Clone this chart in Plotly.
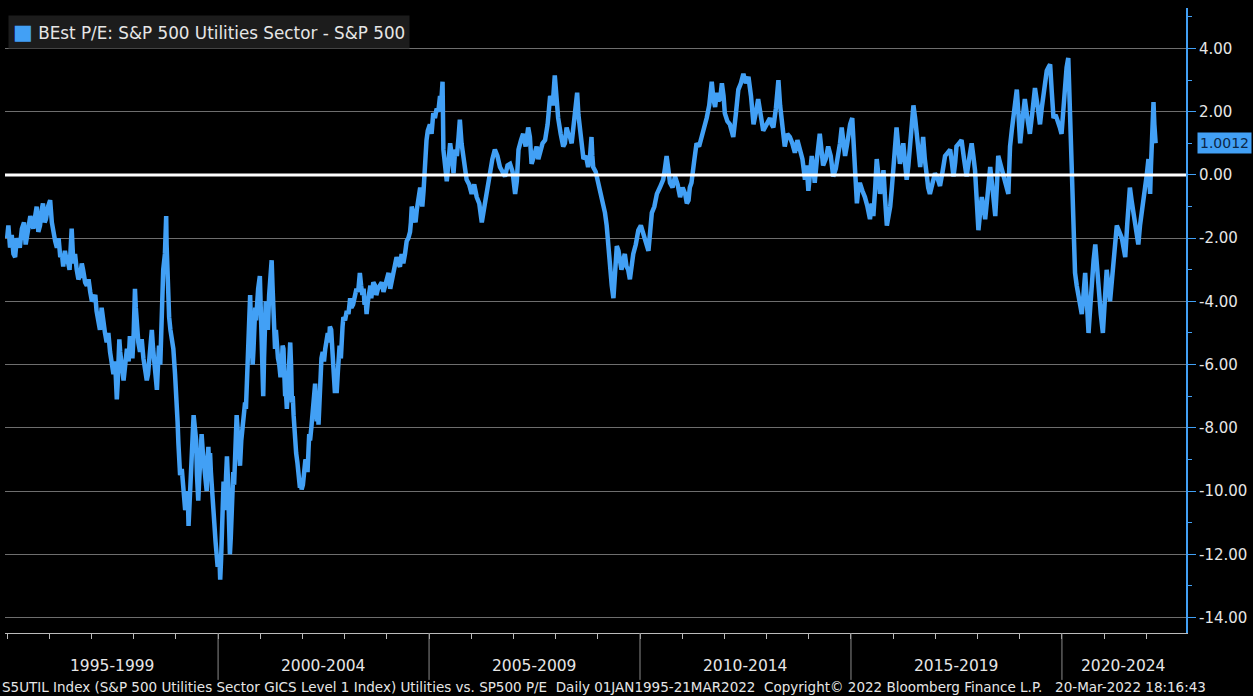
import plotly.graph_objects as go

# decimal year, P/E spread (Utilities minus S&P 500)
years = [
    1995.00, 1995.03, 1995.07, 1995.15, 1995.23, 1995.30, 1995.40, 1995.47, 1995.55, 1995.62,
    1995.70, 1995.78, 1995.85, 1995.92, 1996.02, 1996.06, 1996.10, 1996.18, 1996.26, 1996.33,
    1996.41, 1996.48, 1996.53, 1996.57, 1996.65, 1996.73, 1996.80, 1996.89, 1996.97, 1997.05,
    1997.12, 1997.20, 1997.28, 1997.36, 1997.44, 1997.52, 1997.56, 1997.60, 1997.64, 1997.68,
    1997.76, 1997.84, 1997.91, 1997.97, 1998.03, 1998.08, 1998.15, 1998.23, 1998.31, 1998.37,
    1998.43, 1998.49, 1998.55, 1998.60, 1998.63, 1998.70, 1998.77, 1998.80, 1998.84, 1998.94,
    1999.02, 1999.06, 1999.10, 1999.18, 1999.26, 1999.30, 1999.34, 1999.38, 1999.42, 1999.48,
    1999.53, 1999.57, 1999.61, 1999.67, 1999.73, 1999.77, 1999.81, 1999.85, 1999.89, 1999.94,
    1999.97, 2000.05, 2000.09, 2000.13, 2000.17, 2000.21, 2000.25, 2000.28, 2000.33, 2000.36,
    2000.40, 2000.44, 2000.48, 2000.52, 2000.58, 2000.64, 2000.68, 2000.72, 2000.76, 2000.80,
    2000.84, 2000.88, 2000.92, 2000.99, 2001.03, 2001.07, 2001.11, 2001.15, 2001.21, 2001.27,
    2001.31, 2001.35, 2001.39, 2001.45, 2001.51, 2001.55, 2001.59, 2001.63, 2001.67, 2001.71,
    2001.75, 2001.79, 2001.85, 2001.90, 2001.94, 2001.98, 2002.04, 2002.10, 2002.14, 2002.18,
    2002.24, 2002.30, 2002.34, 2002.38, 2002.42, 2002.48, 2002.54, 2002.60, 2002.65, 2002.70,
    2002.73, 2002.77, 2002.81, 2002.86, 2002.89, 2002.93, 2002.97, 2003.05, 2003.13, 2003.20,
    2003.28, 2003.36, 2003.42, 2003.47, 2003.52, 2003.58, 2003.63, 2003.68, 2003.75, 2003.83,
    2003.92, 2004.00, 2004.08, 2004.15, 2004.23, 2004.31, 2004.39, 2004.47, 2004.55, 2004.59,
    2004.65, 2004.71, 2004.79, 2004.84, 2004.87, 2004.94, 2005.02, 2005.10, 2005.18, 2005.26,
    2005.32, 2005.34, 2005.42, 2005.50, 2005.58, 2005.66, 2005.73, 2005.81, 2005.89, 2006.01,
    2006.13, 2006.25, 2006.36, 2006.44, 2006.56, 2006.68, 2006.80, 2006.92, 2007.04, 2007.12,
    2007.23, 2007.35, 2007.43, 2007.55, 2007.63, 2007.75, 2007.87, 2007.98, 2008.06, 2008.18,
    2008.26, 2008.34, 2008.42, 2008.51, 2008.58, 2008.66, 2008.77, 2008.85, 2008.89, 2009.01,
    2009.13, 2009.21, 2009.29, 2009.37, 2009.45, 2009.52, 2009.60, 2009.68, 2009.76, 2009.84,
    2009.96, 2010.08, 2010.20, 2010.28, 2010.40, 2010.55, 2010.63, 2010.71, 2010.83, 2010.95,
    2011.07, 2011.15, 2011.22, 2011.34, 2011.46, 2011.58, 2011.70, 2011.78, 2011.86, 2011.94,
    2012.01, 2012.13, 2012.21, 2012.33, 2012.45, 2012.57, 2012.69, 2012.80, 2012.92, 2013.08,
    2013.16, 2013.28, 2013.36, 2013.43, 2013.55, 2013.67, 2013.79, 2013.91, 2013.99, 2014.07,
    2014.14, 2014.26, 2014.34, 2014.46, 2014.58, 2014.70, 2014.78, 2014.86, 2014.94, 2015.03,
    2015.10, 2015.14, 2015.21, 2015.33, 2015.45, 2015.53, 2015.61, 2015.69, 2015.77, 2015.85,
    2015.93, 2016.00, 2016.08, 2016.16, 2016.24, 2016.32, 2016.40, 2016.48, 2016.56, 2016.64,
    2016.71, 2016.79, 2016.87, 2016.99, 2017.11, 2017.23, 2017.35, 2017.43, 2017.50, 2017.62,
    2017.74, 2017.86, 2017.94, 2018.02, 2018.10, 2018.18, 2018.30, 2018.42, 2018.49, 2018.61,
    2018.73, 2018.77, 2018.85, 2018.93, 2019.01, 2019.12, 2019.24, 2019.36, 2019.48, 2019.56,
    2019.64, 2019.72, 2019.80, 2019.91, 2019.99, 2020.07, 2020.15, 2020.19, 2020.23, 2020.27,
    2020.31, 2020.39, 2020.47, 2020.55, 2020.63, 2020.71, 2020.79, 2020.86, 2020.97, 2021.06,
    2021.14, 2021.22, 2021.30, 2021.42, 2021.50, 2021.61, 2021.69, 2021.81, 2021.89, 2021.97,
    2022.05, 2022.09, 2022.13, 2022.17, 2022.22,
]
spread = [
    -2.0, -1.6, -2.3, -2.5, -2.0, -2.3, -1.5, -1.9, -1.3, -1.7,
    -1.0, -1.6, -0.9, -1.4, -0.8, -1.5, -1.9, -2.3, -2.6, -2.9,
    -2.7, -3.0, -1.7, -2.8, -3.0, -3.2, -3.0, -3.5, -3.7, -3.9,
    -4.3, -4.9, -4.7, -5.3, -5.6, -6.3, -5.9, -7.1, -6.0, -5.6,
    -6.5, -5.5, -5.1, -5.8, -3.6, -4.9, -5.6, -5.8, -6.5, -5.9,
    -4.9, -6.1, -6.8, -5.4, -6.0, -3.0, -1.3, -3.5, -4.5, -5.5,
    -7.1, -8.5, -9.5, -10.0, -10.3, -11.1, -9.8, -8.5, -7.6, -8.4,
    -10.3, -9.0, -8.2, -9.2, -10.0, -8.6, -8.8, -10.0, -10.8, -11.6,
    -12.0, -12.8, -11.0, -9.7, -10.3, -8.9, -10.5, -12.0, -10.5, -9.4,
    -8.8, -7.6, -8.5, -9.2, -8.0, -7.2, -6.8, -5.5, -3.8, -5.5,
    -5.5, -4.2, -3.9, -3.2, -5.0, -7.0, -4.5, -4.5, -3.8, -2.7,
    -4.6, -5.5, -5.5, -6.0, -6.0, -5.5, -7.0, -7.4, -6.5, -5.3,
    -7.2, -7.6, -8.8, -9.5, -9.9, -9.95, -9.4, -9.1, -8.8, -8.4,
    -7.6, -6.6, -7.8, -7.9, -6.1, -5.6, -5.5, -5.0, -4.8, -5.4,
    -6.0, -6.9, -6.9, -5.8, -5.7, -5.0, -4.5, -4.3, -3.9, -4.1,
    -3.6, -3.1, -3.8, -4.1, -4.4, -3.7, -3.9, -3.4, -3.8, -3.5,
    -3.7, -3.3, -3.6, -3.0, -2.6, -2.9, -2.8, -2.1, -1.8, -1.0,
    -1.4, -1.1, -0.4, -1.0, -0.5, 1.1, 1.6, 1.95, 2.1, 2.5,
    2.95, 0.8, -0.2, 1.0, 0.05, 0.6, 1.75, 0.6, -0.15, -0.6,
    -0.7, -1.5, -0.6, 0.15, 0.8, 0.25, -0.05, 0.35, -0.6, 0.8,
    1.3, 1.5, 0.35, 0.9, 0.7, 1.1, 2.5, 3.15, 1.8, 0.9,
    1.5, 1.2, 1.5, 2.6, 1.4, 0.5, 0.25, 1.2, 0.25, -0.25,
    -1.0, -1.6, -3.0, -3.9, -2.25, -2.6, -2.7, -2.9, -3.3, -2.5,
    -1.75, -1.85, -2.4, -1.2, -0.6, -0.15, 0.6, -0.25, -0.05, -0.7,
    -0.6, -0.8, -0.25, 1.0, 1.2, 1.8, 2.95, 2.15, 2.35, 2.9,
    1.95, 1.6, 1.2, 2.7, 3.2, 3.1, 1.6, 2.4, 1.4, 1.8,
    1.5, 3.0, 1.6, 0.9, 1.2, 0.7, 0.8, -0.15, -0.5, 0.6,
    -0.25, 1.3, 0.3, 0.9, -0.05, 0.6, 1.5, 0.6, 1.3, 1.8,
    0.25, -0.9, -0.25, -0.7, -1.4, -1.3, 0.5, -0.6, 0.15, -1.6,
    -1.0, 0.15, 1.5, 0.35, 1.0, -0.15, 0.9, 2.2, 1.3, 0.25,
    1.2, -0.15, -0.6, 0.05, -0.35, 0.6, 0.8, -0.05, 0.9, 1.1,
    -0.05, 1.0, 0.15, -1.75, -0.7, -1.4, 0.25, -1.3, 0.6, 0.05,
    -0.6, 0.9, 1.95, 2.7, 1.0, 2.4, 1.3, 2.75, 1.6, 2.6,
    3.3, 3.5, 1.8, 1.7, 1.3, 3.1, 3.7, 1.7, 0.25, -1.6,
    -3.1, -3.8, -4.4, -3.1, -5.0, -3.3, -2.2, -3.7, -5.0, -3.0,
    -4.0, -2.9, -1.6, -2.0, -2.6, -0.4, -1.2, -2.2, -1.1, -0.4,
    0.5, -0.6, 1.1, 2.3, 1.0012,
]

# extra in-between readings of the daily wiggle
extra_years = [
    1995.11, 1995.19, 1995.35, 1995.44, 1995.52, 1995.66, 1995.74, 1995.82, 1995.89, 1995.97,
    1996.14, 1996.22, 1996.30, 1996.37, 1996.45, 1996.61, 1996.69, 1996.77, 1996.85, 1996.93,
    1997.01, 1997.09, 1997.16, 1997.24, 1997.32, 1997.40, 1997.48, 1997.58, 1997.62, 1997.66,
    1997.72, 1997.80, 1997.88, 1997.94, 1998.00, 1998.05, 1998.11, 1998.19, 1998.27, 1998.34,
    1998.40, 1998.46, 1998.52, 1998.57, 1998.66, 1998.74, 1998.78, 1998.87, 1998.90, 1998.98,
    1999.04, 1999.08, 1999.14, 1999.22, 1999.28, 1999.32, 1999.36, 1999.40, 1999.45, 1999.50,
    1999.55, 1999.59, 1999.64, 1999.70, 1999.75, 1999.79, 1999.83, 1999.87, 1999.91, 1999.99,
    2000.03, 2000.07, 2000.11, 2000.15, 2000.19, 2000.23, 2000.27, 2000.30, 2000.35, 2000.38,
    2000.42, 2000.46, 2000.50, 2000.55, 2000.61, 2000.66, 2000.70, 2000.74, 2000.78, 2000.82,
    2000.86, 2000.90, 2000.95, 2001.01, 2001.05, 2001.09, 2001.13, 2001.18, 2001.24, 2001.29,
    2001.33, 2001.37, 2001.42, 2001.48, 2001.53, 2001.57, 2001.61, 2001.65, 2001.69, 2001.73,
    2001.77, 2001.82, 2001.88, 2001.92, 2001.96, 2002.01, 2002.07, 2002.12, 2002.16, 2002.21,
    2002.27, 2002.32, 2002.36, 2002.40, 2002.45, 2002.51, 2002.57, 2002.63, 2002.68, 2002.75,
    2002.79, 2002.84, 2002.88, 2002.91, 2002.95, 2003.01, 2003.09, 2003.16, 2003.24, 2003.32,
    2003.39, 2003.45, 2003.50, 2003.55, 2003.61, 2003.66, 2003.72, 2003.79, 2003.88, 2003.96,
    2004.04, 2004.12, 2004.19, 2004.27, 2004.35, 2004.43, 2004.51, 2004.57, 2004.62, 2004.68,
    2004.75, 2004.82, 2004.90, 2004.97, 2005.06, 2005.14, 2005.22, 2005.29, 2005.38, 2005.46,
    2005.54, 2005.62, 2005.70, 2005.77, 2005.85, 2005.95, 2006.07, 2006.19, 2006.30, 2006.40,
    2006.50, 2006.62, 2006.74, 2006.86, 2006.98, 2007.08, 2007.18, 2007.29, 2007.39, 2007.49,
    2007.59, 2007.69, 2007.81, 2007.93, 2008.02, 2008.12, 2008.22, 2008.30, 2008.38, 2008.46,
    2008.54, 2008.62, 2008.72, 2008.81, 2008.87, 2008.95, 2009.07, 2009.17, 2009.25, 2009.33,
    2009.41, 2009.49, 2009.56, 2009.64, 2009.72, 2009.80, 2009.90, 2010.02, 2010.14, 2010.24,
    2010.34, 2010.47, 2010.59, 2010.67, 2010.77, 2010.89, 2011.01, 2011.11, 2011.18, 2011.28,
    2011.40, 2011.52, 2011.64, 2011.74, 2011.82, 2011.90, 2011.98, 2012.07, 2012.17, 2012.27,
    2012.39, 2012.51, 2012.63, 2012.75, 2012.86, 2013.00, 2013.12, 2013.22, 2013.32, 2013.40,
    2013.49, 2013.61, 2013.73, 2013.85, 2013.95, 2014.03, 2014.11, 2014.20, 2014.30, 2014.40,
    2014.52, 2014.64, 2014.74, 2014.82, 2014.90, 2014.98, 2015.06, 2015.17, 2015.27, 2015.39,
    2015.49, 2015.57, 2015.65, 2015.73, 2015.81, 2015.89, 2015.97, 2016.04, 2016.12, 2016.20,
    2016.28, 2016.36, 2016.44, 2016.52, 2016.60, 2016.68, 2016.75, 2016.83, 2016.93, 2017.05,
    2017.17, 2017.29, 2017.39, 2017.47, 2017.56, 2017.68, 2017.80, 2017.90, 2017.98, 2018.06,
    2018.14, 2018.24, 2018.36, 2018.46, 2018.55, 2018.67, 2018.75, 2018.81, 2018.89, 2018.97,
    2019.06, 2019.18, 2019.30, 2019.42, 2019.52, 2019.60, 2019.68, 2019.76, 2019.85, 2019.95,
    2020.03, 2020.11, 2020.17, 2020.21, 2020.25, 2020.29, 2020.35, 2020.43, 2020.51, 2020.59,
    2020.67, 2020.75, 2020.83, 2020.92, 2021.02, 2021.10, 2021.18, 2021.26, 2021.36, 2021.46,
    2021.55, 2021.65, 2021.75, 2021.85, 2021.93, 2022.01, 2022.07, 2022.11, 2022.15, 2022.19,
]
extra_spread = [
    -1.9, -2.6, -1.7, -2.2, -1.6, -1.2, -1.8, -1.1, -1.5, -1.0,
    -2.1, -2.0, -2.5, -2.4, -2.8, -2.5, -3.3, -2.8, -3.4, -3.3,
    -4.0, -3.8, -4.6, -4.2, -5.0, -5.0, -5.9, -6.4, -6.6, -5.2,
    -6.2, -6.0, -5.9, -5.3, -5.0, -4.2, -5.3, -5.2, -6.2, -6.3,
    -5.6, -5.5, -6.5, -6.2, -4.4, -2.5, -2.2, -4.9, -5.2, -6.3,
    -7.8, -9.0, -9.3, -10.6, -10.0, -10.5, -9.0, -8.0, -8.0, -9.5,
    -9.7, -8.5, -8.8, -9.6, -9.0, -9.3, -9.4, -10.4, -11.0, -12.4,
    -12.0, -12.2, -10.2, -10.6, -9.5, -9.5, -11.2, -11.5, -9.9, -9.8,
    -8.3, -8.0, -9.0, -8.4, -7.8, -7.4, -6.2, -4.5, -4.8, -6.0,
    -4.9, -4.6, -3.6, -4.2, -6.2, -5.8, -4.0, -4.9, -3.3, -3.5,
    -5.0, -4.9, -5.8, -6.4, -5.4, -6.3, -6.9, -7.0, -5.9, -6.0,
    -7.0, -8.4, -9.1, -9.5, -9.6, -9.8, -9.0, -9.4, -8.2, -8.0,
    -7.0, -7.2, -7.0, -7.3, -5.8, -5.9, -5.2, -5.3, -4.9, -6.4,
    -6.4, -6.2, -5.4, -5.8, -4.8, -4.6, -4.4, -4.2, -3.9, -3.7,
    -3.5, -3.6, -4.0, -4.0, -3.5, -3.7, -3.5, -3.6, -3.4, -3.5,
    -3.1, -3.3, -2.7, -2.8, -2.5, -2.5, -2.0, -1.5, -1.2, -1.5,
    -0.8, -0.8, 0.3, 1.4, 1.3, 1.8, 2.0, 2.3, 0.4, 0.4,
    0.6, 0.8, 1.2, 1.0, 0.2, -0.3, -0.3, -0.9, -1.1, -0.2,
    0.5, 0.6, 0.1, 0.3, 0.1, -0.2, 1.1, 0.9, 1.2, 0.6,
    0.5, 1.0, 1.6, 2.2, 2.4, 1.3, 1.0, 1.3, 1.0, 1.9,
    1.9, 0.9, 0.6, 0.5, 0.6, 0.1, -0.6, -1.2, -2.3, -3.5,
    -3.0, -2.4, -3.0, -2.5, -3.0, -2.7, -2.2, -1.6, -2.2, -1.8,
    -1.0, -0.4, 0.2, 0.2, -0.4, -0.3, -0.4, -0.9, -0.4, 0.4,
    0.9, 1.4, 2.2, 2.4, 2.6, 2.4, 2.5, 1.7, 1.4, 1.9,
    2.9, 2.9, 2.5, 2.0, 1.9, 1.6, 1.6, 2.1, 2.2, 1.2,
    1.3, 1.0, 1.1, 0.5, 0.3, 0.1, 0.2, 0.6, 0.8, 0.5,
    0.6, 0.2, 1.0, 0.9, 0.9, 1.6, 1.0, -0.5, -0.5, -1.0,
    -0.9, -0.5, 0.0, -0.3, -0.8, -1.3, -0.4, 0.8, 0.9, 0.7,
    0.4, 0.3, 1.5, 1.8, 0.8, 0.7, 0.5, -0.4, -0.2, -0.1,
    0.1, 0.7, 0.4, 0.4, 1.0, 0.5, 0.5, 0.6, -0.8, -1.2,
    -1.0, -0.6, -0.5, -0.3, 0.3, -0.3, 0.2, 1.4, 2.3, 1.9,
    1.7, 1.8, 2.0, 2.2, 2.1, 2.9, 3.4, 2.6, 1.9, 1.5,
    2.2, 3.4, 2.7, 1.0, -0.7, -2.4, -3.5, -4.1, -3.8, -4.0,
    -4.2, -2.7, -3.0, -4.4, -4.0, -3.5, -3.4, -2.2, -1.8, -2.3,
    -1.5, -0.8, -1.7, -1.6, -0.7, 0.0, -0.1, 0.3, 1.7, 1.6,
]

y_ticks = [4, 2, 0, -2, -4, -6, -8, -10, -12, -14]
periods = ["1995-1999", "2000-2004", "2005-2009", "2010-2014", "2015-2019", "2020-2024"]
period_starts = [1995, 2000, 2005, 2010, 2015, 2020]
year_ticks = list(range(1995, 2023))

title = "BEst P/E: S&P 500 Utilities Sector - S&P 500"
footer = ("S5UTIL Index (S&P 500 Utilities Sector GICS Level 1 Index) Utilities vs. SP500 P/E  "
          "Daily 01JAN1995-21MAR2022  Copyright\u00a9 2022 Bloomberg Finance L.P.   20-Mar-2022 18:16:43")

BLUE = "#42a0f5"
x_min, x_max = 1994.95, 2022.94
px_year = 1 / 42.2  # one pixel in years

pts = sorted(zip(years + extra_years, spread + extra_spread))
xs = [p[0] for p in pts]
ys = [p[1] for p in pts]
last = spread[-1]

fig = go.Figure()
fig.add_trace(go.Scatter(x=xs, y=ys, mode="lines",
                         line=dict(color=BLUE, width=4.5), showlegend=False))

# triangle markers on the right axis
fig.add_trace(go.Scatter(x=[x_max + 5 * px_year] * len(y_ticks), y=y_ticks, mode="markers",
                         marker=dict(symbol="triangle-right", size=9, color=BLUE),
                         cliponaxis=False, showlegend=False, hoverinfo="skip"))
# last value pointer
fig.add_trace(go.Scatter(x=[x_max + 7 * px_year], y=[last], mode="markers",
                         marker=dict(symbol="triangle-left", size=15, color=BLUE),
                         cliponaxis=False, showlegend=False, hoverinfo="skip"))

fig.add_hline(y=0, line=dict(color="white", width=3))

for s in period_starts[1:]:
    fig.add_shape(type="line", xref="x", yref="paper", x0=s, x1=s, y0=0, y1=-0.075,
                  line=dict(color="#8a8a8a", width=1))

for p, s in zip(periods, period_starts):
    centre = (s + min(s + 5, x_max)) / 2
    fig.add_annotation(x=centre, y=-0.053, xref="x", yref="paper", text=p, showarrow=False,
                       font=dict(family="DejaVu Sans", size=15.5, color="#e6e6e6"), yanchor="middle")

fig.add_annotation(x=0, y=-0.087, xref="paper", yref="paper", xanchor="left", xshift=-5,
                   yanchor="middle", text=footer, showarrow=False,
                   font=dict(family="DejaVu Sans", size=13.5, color="#e6e6e6"))

fig.add_annotation(x=0, y=1, xref="paper", yref="paper", xanchor="left", yanchor="top",
                   xshift=3, yshift=-7,
                   text=f'<span style="color:{BLUE};font-size:21px">\u25a0</span> {title}',
                   showarrow=False, bgcolor="#1c1c1c", borderpad=4,
                   font=dict(family="DejaVu Sans", size=16.8, color="#e6e6e6"))

fig.add_annotation(x=1, y=last, xref="paper", yref="y", xanchor="left", yanchor="middle",
                   xshift=11, text=f"{last:.4f}", showarrow=False, bgcolor=BLUE, borderpad=2,
                   font=dict(family="DejaVu Sans", size=14, color="#0b2747"))

fig.update_layout(
    width=1253, height=696,
    paper_bgcolor="black", plot_bgcolor="black",
    margin=dict(l=5, r=67, t=8, b=63),
    xaxis=dict(range=[x_min, x_max], tickmode="array", tickvals=year_ticks, showticklabels=False,
               ticks="outside", ticklen=5, tickcolor="#bbbbbb", showgrid=False, zeroline=False,
               showline=True, linecolor="#bbbbbb", linewidth=1),
    yaxis=dict(range=[-14.49, 5.28], side="right", tickmode="array", tickvals=y_ticks,
               ticktext=[f"{v:.2f}" for v in y_ticks], ticks="outside", ticklen=8,
               tickcolor=BLUE, tickwidth=1, showline=True, linecolor=BLUE, linewidth=2,
               showgrid=True, gridcolor="#6e6e6e", gridwidth=1, zeroline=False,
               tickfont=dict(family="DejaVu Sans", size=15, color="#e6e6e6"),
               minor=dict(dtick=1, ticks="outside", ticklen=4, tickcolor=BLUE, showgrid=False)),
)

fig.write_html("out.html", config={"displayModeBar": False},
               post_script="document.body.style.margin='0';")
